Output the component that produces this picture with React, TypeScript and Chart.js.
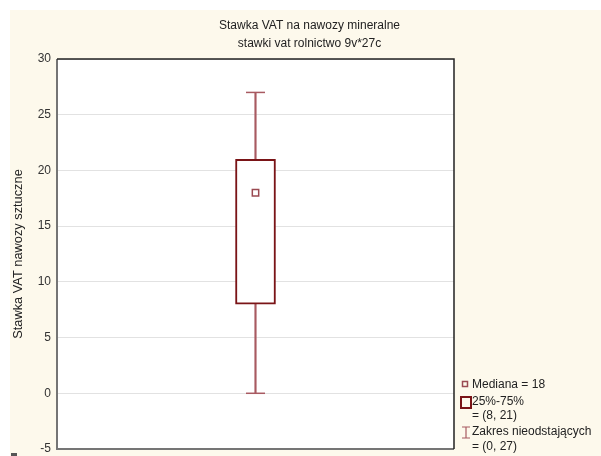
import React, { useEffect, useRef } from "react";
import { Chart, registerables } from "chart.js";

Chart.register(...registerables);

const categories = [""];
const boxRange: [number, number][] = [[8, 21]];
const whiskerRange: [number, number][] = [[0, 27]];
const medianValues = [18];
const yMin = -5;
const yMax = 30;
const yStep = 5;
const titleLines = ["Stawka VAT na nawozy mineralne", "stawki vat rolnictwo 9v*27c"];
const yTitle = "Stawka VAT nawozy sztuczne";

const BOX = "#7a1417";
const WHISK = "#a85a61";
const MED = "#9a4a52";
const FONT = "'Liberation Sans', Arial, sans-serif";

const W = 591;
const H = 446;

export default function App() {
  const ref = useRef<HTMLCanvasElement>(null);
  useEffect(() => {
    const canvas = ref.current!;
    const decor = {
      id: "decor",
      beforeDraw(chart: any) {
        const { ctx, chartArea: a } = chart;
        ctx.save();
        ctx.fillStyle = "#ffffff";
        ctx.fillRect(a.left, a.top, a.right - a.left, a.bottom - a.top);
        ctx.restore();
      },
      afterDraw(chart: any) {
        const { ctx, chartArea: a } = chart;
        ctx.save();
        // title
        ctx.fillStyle = "#222";
        ctx.font = `12px ${FONT}`;
        ctx.textAlign = "center";
        ctx.textBaseline = "middle";
        ctx.fillText(titleLines[0], W / 2 + 4, 16);
        ctx.fillText(titleLines[1], W / 2 + 4, 34);
        // borders
        ctx.lineWidth = 2;
        ctx.strokeStyle = "#757575";
        ctx.beginPath();
        ctx.moveTo(a.left, a.top);
        ctx.lineTo(a.left, a.bottom);
        ctx.lineTo(a.right, a.bottom);
        ctx.stroke();
        ctx.lineWidth = 1.5;
        ctx.strokeStyle = "#222";
        ctx.beginPath();
        ctx.moveTo(a.left, a.top);
        ctx.lineTo(a.right, a.top);
        ctx.lineTo(a.right, a.bottom);
        ctx.stroke();
        // legend
        const lx = a.right + 6;
        ctx.font = `12px ${FONT}`;
        ctx.textAlign = "left";
        ctx.fillStyle = "#222";
        ctx.strokeStyle = MED;
        ctx.lineWidth = 1.5;
        ctx.strokeRect(lx + 2.5, 371.5, 5, 5);
        ctx.fillText(`Mediana = ${medianValues[0]}`, lx + 12, 375);
        ctx.strokeStyle = BOX;
        ctx.lineWidth = 2;
        ctx.strokeRect(lx + 1, 387, 10, 11);
        ctx.fillText("25%-75%", lx + 12, 392);
        ctx.fillText(`= (${boxRange[0][0]}, ${boxRange[0][1]})`, lx + 12, 406);
        ctx.strokeStyle = WHISK;
        ctx.lineWidth = 1.2;
        ctx.beginPath();
        ctx.moveTo(lx + 2, 417);
        ctx.lineTo(lx + 10, 417);
        ctx.moveTo(lx + 6, 417);
        ctx.lineTo(lx + 6, 428);
        ctx.moveTo(lx + 2, 428);
        ctx.lineTo(lx + 10, 428);
        ctx.stroke();
        ctx.fillText("Zakres nieodstających", lx + 12, 422);
        ctx.fillText(`= (${whiskerRange[0][0]}, ${whiskerRange[0][1]})`, lx + 12, 437);
        ctx.fillStyle = "#555";
        ctx.fillRect(1, 443, 6, 3);
        ctx.restore();
      },
    };
    const chart = new Chart(canvas, {
      type: "bar",
      data: {
        labels: categories,
        datasets: [
          {
            type: "line",
            data: medianValues,
            showLine: false,
            pointStyle: "rect",
            pointRadius: 4.5,
            pointBorderWidth: 1.5,
            pointBorderColor: MED,
            pointBackgroundColor: "#ffffff",
            order: 0,
          } as any,
          {
            type: "bar",
            data: boxRange,
            backgroundColor: "#ffffff",
            borderColor: BOX,
            borderWidth: 2,
            borderSkipped: false,
            barThickness: 40,
            grouped: false,
            order: 1,
          } as any,
          {
            type: "bar",
            data: whiskerRange,
            backgroundColor: WHISK,
            borderWidth: 0,
            barThickness: 1.5,
            grouped: false,
            order: 2,
          } as any,
          {
            type: "line",
            data: whiskerRange.map((r) => r[0]),
            showLine: false,
            pointStyle: "line",
            pointRadius: 9.5,
            pointBorderWidth: 1.5,
            pointBorderColor: WHISK,
            order: 2,
          } as any,
          {
            type: "line",
            data: whiskerRange.map((r) => r[1]),
            showLine: false,
            pointStyle: "line",
            pointRadius: 9.5,
            pointBorderWidth: 1.5,
            pointBorderColor: WHISK,
            order: 2,
          } as any,
        ],
      },
      options: {
        responsive: false,
        animation: false,
        layout: { autoPadding: false, padding: { left: 0, top: 49, right: 147, bottom: 7 } },
        plugins: { legend: { display: false }, tooltip: { enabled: false }, title: { display: false } },
        scales: {
          x: { display: false },
          y: {
            min: yMin,
            max: yMax,
            ticks: { stepSize: yStep, color: "#333", font: { family: FONT, size: 12 }, padding: 6 },
            grid: { color: "#e2e2e2", drawTicks: false, lineWidth: 1 },
            border: { display: false },
            title: {
              display: true,
              text: yTitle,
              color: "#222",
              font: { family: FONT, size: 12.8 },
              padding: { top: 1, bottom: 0 },
            },
            afterFit(scale: any) {
              scale.width = 47;
              scale.paddingTop = 0;
              scale.paddingBottom = 0;
            },
          },
        },
      },
      plugins: [decor],
    } as any);
    return () => chart.destroy();
  }, []);
  return (
    <div style={{ position: "fixed", left: 0, top: 0, width: 601, height: 456, background: "#ffffff" }}>
      <div style={{ position: "absolute", left: 10, top: 10, width: W, height: H, background: "#fdf9ec" }}>
        <canvas ref={ref} width={W} height={H} style={{ display: "block" }} />
      </div>
    </div>
  );
}
